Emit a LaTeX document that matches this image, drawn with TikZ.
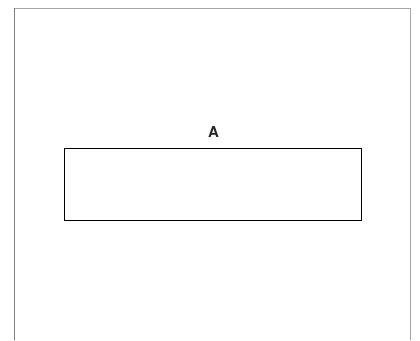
\documentclass[tikz,border=0pt]{standalone}
\usepackage{fontspec}
\setmainfont{TeX Gyre Heros}
\begin{document}
\begin{tikzpicture}[x=1pt,y=-1pt,
  framel/.style={draw=black!50,line width=0.9pt},
  framelight/.style={draw=black!35,line width=0.9pt},
  boxstyle/.style={draw=black,line width=1.3pt,minimum width=297pt,minimum height=72pt,inner sep=0pt},
  lbl/.style={font=\fontsize{15}{17}\selectfont\bfseries,text=black!85,inner sep=0pt}]
\useasboundingbox (0,0) rectangle (420,340);
\coordinate (tl) at (14.5,8);
\coordinate (tr) at (410.5,8);
\coordinate (bl) at (14.5,340);
\coordinate (br) at (410.5,340);
\draw[framelight] (tl) -- (tr);
\draw[framel] (tl) -- (bl);
\draw[framelight] (tr) -- (br);
\node[boxstyle] (boxA) at (212.8,184.3) {};
\node[lbl,anchor=base] (labA) at (213.5,137.5) {A};
\end{tikzpicture}
\end{document}
